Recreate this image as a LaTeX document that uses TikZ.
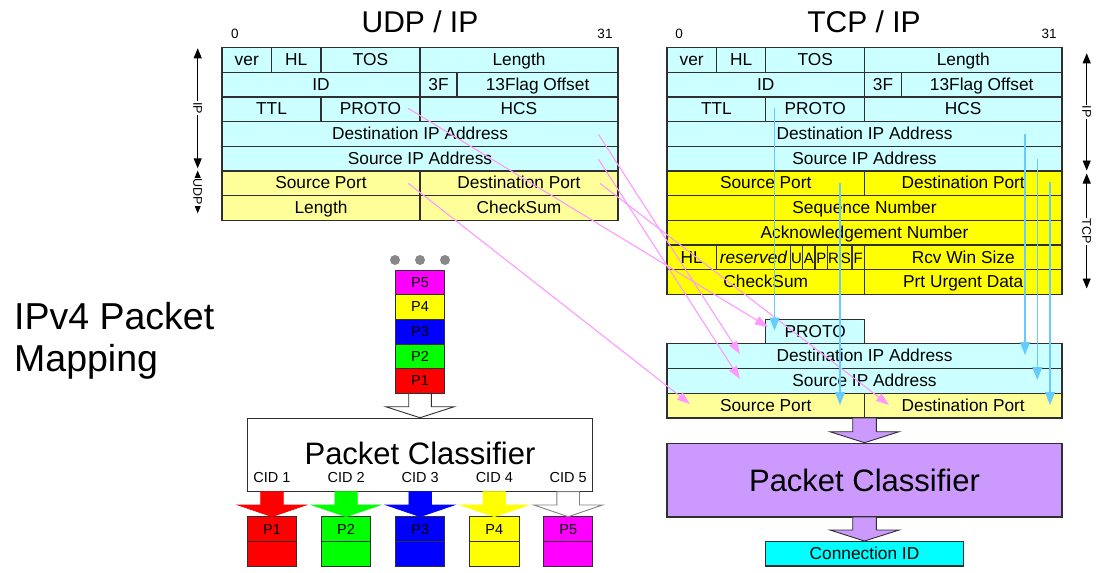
\documentclass[tikz,border=0pt]{standalone}
\usepackage{fontspec}
\setmainfont{Liberation Sans}
\usetikzlibrary{arrows.meta,calc}

\definecolor{ipcyan}{HTML}{CCFFFF}
\definecolor{udpyellow}{HTML}{FFFF99}
\definecolor{tcpyellow}{HTML}{FFFF00}
\definecolor{classpurple}{HTML}{CC99FF}
\definecolor{cidcyan}{HTML}{00FFFF}
\definecolor{udpline}{HTML}{FF99FF}
\definecolor{tcpline}{HTML}{66CCFF}
\definecolor{framecol}{HTML}{303030}
\definecolor{dotgray}{HTML}{888888}
\definecolor{pred}{HTML}{FF0000}
\definecolor{pgreen}{HTML}{00FF00}
\definecolor{pblue}{HTML}{0000FF}
\definecolor{pyellow}{HTML}{FFFF00}
\definecolor{pmagenta}{HTML}{FF00FF}

\newcommand\fs[1]{\fontsize{#1}{#1}\selectfont}

\tikzset{
  cellbox/.style={draw=framecol, line width=1.3pt, inner sep=0pt, outer sep=0pt,
    font=\fs{17.3}, text height=14.7pt, text depth=3.6pt},
  flagbox/.style={cellbox, font=\fs{15}},
  pktbox/.style={draw=framecol, line width=0.9pt, inner sep=0pt, outer sep=0pt, font=\fs{14.5}},
  bigbox/.style={draw=framecol, line width=1.3pt, inner sep=0pt, outer sep=0pt, font=\fs{31}},
  bitlabel/.style={font=\fs{13.5}, inner sep=0pt},
  headtitle/.style={font=\fs{30}, inner sep=0pt},
  cidlabel/.style={font=\fs{14.5}, inner sep=0pt},
  sidearrow/.style={line width=0.9pt, {Triangle[length=10pt,width=8pt]}-{Triangle[length=10pt,width=8pt]}},
  sidelabel/.style={font=\fs{12.5}, fill=white, inner sep=1pt, rotate=-90},
  udpmap/.style={draw=udpline, line width=1.1pt, -{Triangle[length=13pt,width=9pt]}},
  tcpmap/.style={draw=tcpline, line width=1.4pt, -{Triangle[length=13pt,width=10pt]}},
  openarrow/.style={draw=framecol, line width=0.9pt, fill=white},
  dot/.style={circle, fill=dotgray, inner sep=0pt, minimum size=10pt},
}

% one header field: name, style, x1, y1, x2, y2, fill, text
\newcommand\cell[8]{\node[#2, fill=#7, minimum width={(#5)-(#3)}, minimum height={(#6)-(#4)}] (#1) at ({((#3)+(#5))/2},{((#4)+(#6))/2}) {#8};}

% downward block arrow: style, start point, shaft half width, shaft length, head half width, head length
\newcommand\blockdown[6]{%
  \draw[#1] ($#2+(-#3,0)$) -- ($#2+(-#3,#4)$) -- ($#2+(-#5,#4)$) -- ($#2+(0,{#4+#6})$)
    -- ($#2+(#5,#4)$) -- ($#2+(#3,#4)$) -- ($#2+(#3,0)$) -- cycle;}

\begin{document}
\begin{tikzpicture}[x=1pt,y=-1pt]
\useasboundingbox (0,0) rectangle (1117,573);

% ---------- titles ----------
\node[headtitle] (udptitle) at (420,22) {UDP / IP};
\node[headtitle] (tcptitle) at (864,22) {TCP / IP};
\node[bitlabel] (lzero) at (235,34) {0};
\node[bitlabel] (lend) at (605,34) {31};
\node[bitlabel] (rzero) at (679,34) {0};
\node[bitlabel] (rend) at (1049,34) {31};

\node[font=\fs{37.5}, inner sep=0pt, anchor=base west] (maptitle1) at (14,329.5) {IPv4 Packet};
\node[font=\fs{37.5}, inner sep=0pt, anchor=base west] (maptitle2) at (14,371.5) {Mapping};

% ---------- UDP / IP header ----------
\cell{lver}{cellbox}{222}{47.5}{271.5}{72.2}{ipcyan}{ver}
\cell{lhl}{cellbox}{271.5}{47.5}{321}{72.2}{ipcyan}{HL}
\cell{ltos}{cellbox}{321}{47.5}{420}{72.2}{ipcyan}{TOS}
\cell{llen}{cellbox}{420}{47.5}{618}{72.2}{ipcyan}{Length}
\cell{lid}{cellbox}{222}{72.2}{420}{96.9}{ipcyan}{ID}
\cell{lflg}{cellbox}{420}{72.2}{457.1}{96.9}{ipcyan}{3F}
\cell{loff}{cellbox}{457.1}{72.2}{618}{96.9}{ipcyan}{13Flag Offset}
\cell{lttl}{cellbox}{222}{96.9}{321}{121.6}{ipcyan}{TTL}
\cell{lproto}{cellbox}{321}{96.9}{420}{121.6}{ipcyan}{PROTO}
\cell{lhcs}{cellbox}{420}{96.9}{618}{121.6}{ipcyan}{HCS}
\cell{ldst}{cellbox}{222}{121.6}{618}{146.3}{ipcyan}{Destination IP Address}
\cell{lsrc}{cellbox}{222}{146.3}{618}{171}{ipcyan}{Source IP Address}
\cell{lsport}{cellbox}{222}{171}{420}{195.7}{udpyellow}{Source Port}
\cell{ldport}{cellbox}{420}{171}{618}{195.7}{udpyellow}{Destination Port}
\cell{lulen}{cellbox}{222}{195.7}{420}{220.4}{udpyellow}{Length}
\cell{lcsum}{cellbox}{420}{195.7}{618}{220.4}{udpyellow}{CheckSum}

\coordinate (lipA) at (197.7,48.3);
\coordinate (lipB) at (197.7,168.3);
\coordinate (ludA) at (197.7,170.5);
\coordinate (ludB) at (197.7,213.3);
\draw[sidearrow] (lipA) -- node[sidelabel] (liplab) {IP} (lipB);
\draw[sidearrow] (ludA) -- node[sidelabel] (ludlab) {UDP} (ludB);

% ---------- TCP / IP header ----------
\cell{rver}{cellbox}{667}{47.5}{716.4}{72.2}{ipcyan}{ver}
\cell{rhl}{cellbox}{716.4}{47.5}{765.8}{72.2}{ipcyan}{HL}
\cell{rtos}{cellbox}{765.8}{47.5}{864.5}{72.2}{ipcyan}{TOS}
\cell{rlen}{cellbox}{864.5}{47.5}{1062}{72.2}{ipcyan}{Length}
\cell{rid}{cellbox}{667}{72.2}{864.5}{96.9}{ipcyan}{ID}
\cell{rflg}{cellbox}{864.5}{72.2}{901.5}{96.9}{ipcyan}{3F}
\cell{roff}{cellbox}{901.5}{72.2}{1062}{96.9}{ipcyan}{13Flag Offset}
\cell{rttl}{cellbox}{667}{96.9}{765.8}{121.6}{ipcyan}{TTL}
\cell{rproto}{cellbox}{765.8}{96.9}{864.5}{121.6}{ipcyan}{PROTO}
\cell{rhcs}{cellbox}{864.5}{96.9}{1062}{121.6}{ipcyan}{HCS}
\cell{rdst}{cellbox}{667}{121.6}{1062}{146.3}{ipcyan}{Destination IP Address}
\cell{rsrc}{cellbox}{667}{146.3}{1062}{171}{ipcyan}{Source IP Address}
\cell{rsport}{cellbox}{667}{171}{864.5}{195.7}{tcpyellow}{Source Port}
\cell{rdport}{cellbox}{864.5}{171}{1062}{195.7}{tcpyellow}{Destination Port}
\cell{rseq}{cellbox}{667}{195.7}{1062}{220.4}{tcpyellow}{Sequence Number}
\cell{rack}{cellbox}{667}{220.4}{1062}{245.1}{tcpyellow}{Acknowledgement Number}
\cell{rthl}{cellbox}{667}{245.1}{716.4}{269.8}{tcpyellow}{HL}
\cell{rres}{cellbox}{716.4}{245.1}{790.4}{269.8}{tcpyellow}{\itshape reserved}
\cell{rfu}{flagbox}{790.4}{245.1}{802.7}{269.8}{tcpyellow}{U}
\cell{rfa}{flagbox}{802.7}{245.1}{815.1}{269.8}{tcpyellow}{A}
\cell{rfp}{flagbox}{815.1}{245.1}{827.4}{269.8}{tcpyellow}{P}
\cell{rfr}{flagbox}{827.4}{245.1}{839.8}{269.8}{tcpyellow}{R}
\cell{rfs}{flagbox}{839.8}{245.1}{852.1}{269.8}{tcpyellow}{S}
\cell{rff}{flagbox}{852.1}{245.1}{864.5}{269.8}{tcpyellow}{F}
\cell{rwin}{cellbox}{864.5}{245.1}{1062}{269.8}{tcpyellow}{Rcv Win Size}
\cell{rcsum}{cellbox}{667}{269.8}{864.5}{294.5}{tcpyellow}{CheckSum}
\cell{rurg}{cellbox}{864.5}{269.8}{1062}{294.5}{tcpyellow}{Prt Urgent Data}

\coordinate (ripA) at (1086.7,53.3);
\coordinate (ripB) at (1086.7,170.5);
\coordinate (rtcA) at (1086.7,173.5);
\coordinate (rtcB) at (1086.7,288.5);
\draw[sidearrow] (ripA) -- node[sidelabel] (riplab) {IP} (ripB);
\draw[sidearrow] (rtcA) -- node[sidelabel] (rtclab) {TCP} (rtcB);

% ---------- extracted key fields ----------
\cell{bproto}{cellbox}{765.8}{319.3}{864.5}{343.7}{ipcyan}{PROTO}
\cell{bdst}{cellbox}{667}{343.7}{1062}{368.5}{ipcyan}{Destination IP Address}
\cell{bsrc}{cellbox}{667}{368.5}{1062}{393.3}{ipcyan}{Source IP Address}
\cell{bsport}{cellbox}{667}{393.3}{864.5}{418}{udpyellow}{Source Port}
\cell{bdport}{cellbox}{864.5}{393.3}{1062}{418}{udpyellow}{Destination Port}

\cell{rclass}{bigbox}{667}{443.3}{1062}{517}{classpurple}{Packet Classifier}
\cell{connid}{cellbox}{765.7}{541.3}{963.3}{566}{cidcyan}{Connection ID}

\blockdown{draw=framecol, line width=0.9pt, fill=classpurple}{(bsport.south east)}{11.8}{13.7}{34.6}{11}
\blockdown{draw=framecol, line width=0.9pt, fill=classpurple}{(rclass.south)}{11.8}{13}{34.6}{11}

% ---------- packet queue and classifier ----------
\node[dot] (dot1) at (395,260) {};
\node[dot] (dot2) at (420,260) {};
\node[dot] (dot3) at (445,260) {};
\cell{q5}{pktbox}{395.7}{270}{444.3}{294.7}{pmagenta}{P5}
\cell{q4}{pktbox}{395.7}{294.7}{444.3}{319.3}{pyellow}{P4}
\cell{q3}{pktbox}{395.7}{319.3}{444.3}{344}{pblue}{P3}
\cell{q2}{pktbox}{395.7}{344}{444.3}{368.7}{pgreen}{P2}
\cell{q1}{pktbox}{395.7}{368.7}{444.3}{393.3}{pred}{P1}

\cell{lclass}{bigbox}{247.3}{418.3}{592.7}{491.7}{white}{\raisebox{3pt}{Packet Classifier}}
\blockdown{openarrow}{(q1.south)}{11.3}{13.4}{34.3}{11}

\foreach \i/\cx/\col in {1/272/pred, 2/346.1/pgreen, 3/420.2/pblue, 4/494.3/pyellow, 5/568.2/pmagenta}{
  \node[cidlabel] (cid\i) at (\cx,478) {CID \i};
  \cell{out\i a}{pktbox}{\cx-24.65}{516.7}{\cx+24.65}{541.5}{\col}{P\i}
  \cell{out\i b}{pktbox}{\cx-24.65}{541.5}{\cx+24.65}{566.7}{\col}{}
  \coordinate (go\i) at (out\i a.north |- lclass.south);
}
\blockdown{draw=pred, line width=0.6pt, fill=pred}{(go1)}{11.3}{13.3}{34.3}{11.7}
\blockdown{draw=pgreen, line width=0.6pt, fill=pgreen}{(go2)}{11.3}{13.3}{34.3}{11.7}
\blockdown{draw=pblue, line width=0.6pt, fill=pblue}{(go3)}{11.3}{13.3}{34.3}{11.7}
\blockdown{draw=pyellow, line width=0.6pt, fill=pyellow}{(go4)}{11.3}{13.3}{34.3}{11.7}
\blockdown{draw=gray, line width=0.9pt, fill=white}{(go5)}{11.3}{13.3}{34.3}{11.7}

% ---------- UDP field mapping ----------
\draw[udpmap] ([shift={(37.5,-1)}]lproto.center) -- ([shift={(-47.2,-4.5)}]bproto.center);
\draw[udpmap] ([shift={(178.5,0.5)}]ldst.center) -- ([shift={(-124.5,-2.1)}]bdst.center);
\draw[udpmap] ([shift={(178.5,0.6)}]lsrc.center) -- ([shift={(-124.5,-1.9)}]bsrc.center);
\draw[udpmap] ([shift={(87.3,0)}]lsport.center) -- ([shift={(-75.75,-1.65)}]bsport.center);
\draw[udpmap] ([shift={(81,0)}]ldport.center) -- ([shift={(-74.25,-0.65)}]bdport.center);

% ---------- TCP field mapping ----------
\draw[tcpmap] ([shift={(-40.65,-1)}]rproto.center) -- ([shift={(-40.65,-1)}]bproto.center);
\draw[tcpmap] ([shift={(74.25,-0.65)}]rsport.center) -- ([shift={(74.25,-0.65)}]bsport.center);
\draw[tcpmap] ([shift={(160.5,0)}]rdst.center) -- ([shift={(160.5,-1.1)}]bdst.center);
\draw[tcpmap] ([shift={(172.8,0.35)}]rsrc.center) -- ([shift={(172.8,-0.9)}]bsrc.center);
\draw[tcpmap] ([shift={(86.75,-1.65)}]rdport.center) -- ([shift={(86.75,-0.65)}]bdport.center);

\end{tikzpicture}
\end{document}
